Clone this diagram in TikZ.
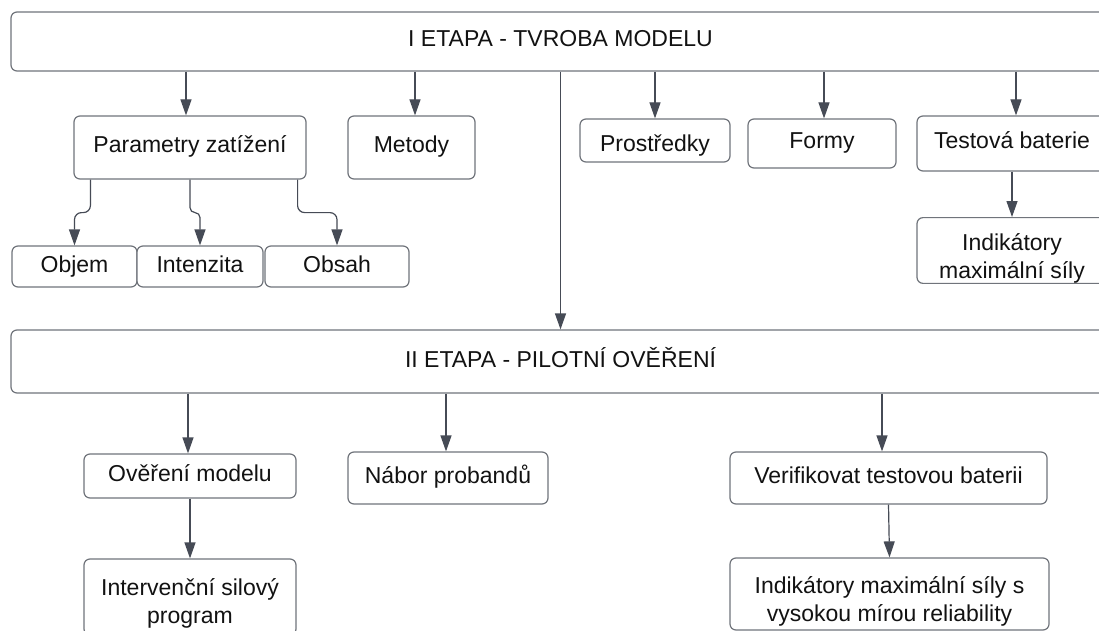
\documentclass[tikz,border=0pt]{standalone}
\usepackage{fontspec}
\setmainfont{Liberation Sans}
\usetikzlibrary{arrows.meta,calc}
\definecolor{bord}{RGB}{112,116,123}
\definecolor{arrc}{RGB}{70,75,86}
\definecolor{txt}{RGB}{18,18,18}
\begin{document}
\begin{tikzpicture}[x=1pt,y=-1pt,
  box/.style={draw=bord, line width=1.2pt, rounded corners=6pt, fill=white, inner sep=0pt,
    text=txt, font=\fontsize{23}{28}\selectfont, text height=17pt, text depth=6pt},
  mbox/.style={draw=bord, line width=1.2pt, rounded corners=6pt, fill=white, inner sep=0pt,
    text=txt, font=\fontsize{23}{28}\selectfont, align=center},
  arr/.style={draw=arrc, line width=1.2pt, -{Triangle[length=16pt,width=11pt]}},
  elb/.style={arr, rounded corners=7pt},
]
\useasboundingbox (0,0) rectangle (1099,631);
\clip (0,0) rectangle (1099,631);
\fill[white] (0,0) rectangle (1099,631);

% stage I
\node[box, minimum width=1099pt, minimum height=59pt] (top) at (560.5,41.5) {I ETAPA - TVROBA MODELU};
\node[box, minimum width=232pt, minimum height=63pt] (par) at (190,147.5) {Parametry zatížení};
\node[box, minimum width=127pt, minimum height=63pt] (met) at (411.5,147.5) {Metody};
\node[box, minimum width=150pt, minimum height=43pt, text height=23pt, text depth=0.5pt] (pro) at (655,140.5) {Prostředky};
\node[box, minimum width=148pt, minimum height=49pt] (for) at (822,143.5) {Formy};
\node[box, minimum width=190pt, minimum height=55pt] (tes) at (1012,143.5) {Testová baterie};
\node[mbox, minimum width=190pt, minimum height=65pt] (ind1) at (1012,250.5) {\rule{0pt}{33pt}Indikátory\\maximální síly};
\node[box, minimum width=125pt, minimum height=41pt] (obj) at (74.5,266.5) {Objem};
\node[box, minimum width=126pt, minimum height=41pt] (int) at (200,266.5) {Intenzita};
\node[box, minimum width=144pt, minimum height=41pt] (obs) at (337,266.5) {Obsah};

% stage II
\node[box, minimum width=1099pt, minimum height=63pt] (two) at (560.5,361.5) {II ETAPA - PILOTNÍ OVĚŘENÍ};
\node[box, minimum width=212pt, minimum height=44pt] (ove) at (190,476) {Ověření modelu};
\node[box, minimum width=200pt, minimum height=52pt] (nab) at (448,478) {Nábor probandů};
\node[box, minimum width=317pt, minimum height=52pt] (ver) at (888.5,478) {Verifikovat testovou baterii};
\node[mbox, minimum width=212pt, minimum height=76pt] (intv) at (190,597) {\rule{0pt}{29pt}Intervenční silový\\program};
\node[mbox, minimum width=319pt, minimum height=72pt] (ind2) at (889.5,594) {\rule{0pt}{31pt}Indikátory maximální síly s\\vysokou mírou reliability};

% connectors stage I
\draw[arr] ([xshift=-4pt]par.north |- top.south) -- ([xshift=-4pt]par.north);
\draw[arr] ([xshift=3.5pt]met.north |- top.south) -- ([xshift=3.5pt]met.north);
\draw[arr] (top.south) -- (two.north);
\draw[arr] (pro.north |- top.south) -- (pro.north);
\draw[arr] ([xshift=2pt]for.north |- top.south) -- ([xshift=2pt]for.north);
\draw[arr] ([xshift=4pt]tes.north |- top.south) -- ([xshift=4pt]tes.north);
\draw[arr] (tes.south) -- (ind1.north);
\draw[elb] ([xshift=17pt]par.south west) -- ++(0,33) -| (obj.north);
\draw[elb, rounded corners=5pt] (par.south) -- ++(0,33) -| (int.north);
\draw[elb] ([xshift=-9pt]par.south east) -- ++(0,33) -| (obs.north);

% connectors stage II
\draw[arr] ([xshift=-2pt]ove.north |- two.south) -- ([xshift=-2pt]ove.north);
\draw[arr] (ove.south) -- (intv.north);
\draw[arr] ([xshift=-2pt]nab.north |- two.south) -- ([xshift=-2pt]nab.north);
\draw[arr] ([xshift=-6.5pt]ver.north |- two.south) -- ([xshift=-6.5pt]ver.north);
\draw[arr] (ver.south) -- (ind2.north);
\end{tikzpicture}
\end{document}
